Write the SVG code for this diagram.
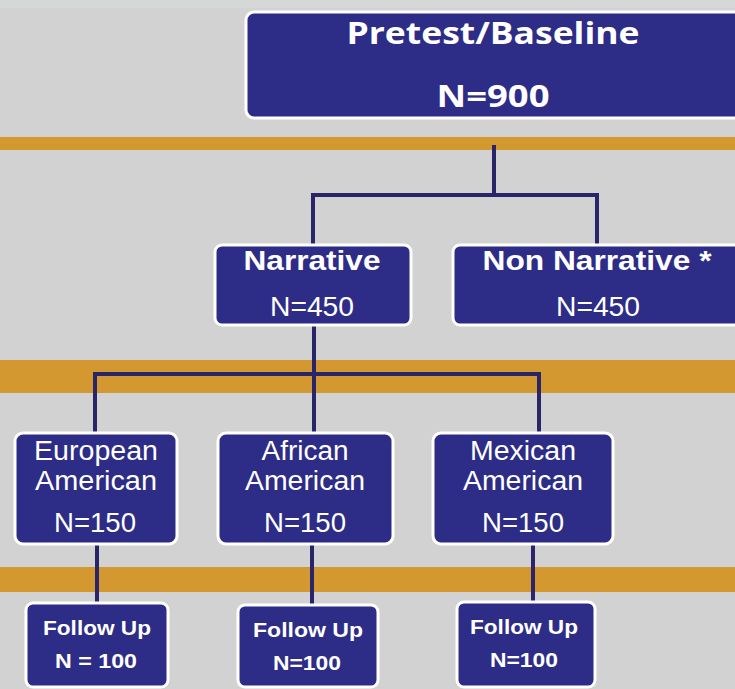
<svg xmlns="http://www.w3.org/2000/svg" width="735" height="689" viewBox="0 0 735 689">
<style>
.box{fill:#2d2c86;stroke:#ffffff;stroke-width:3}
.band{fill:#d3982f}
.t{fill:#ffffff;font-family:"Liberation Sans",Arial,sans-serif;text-anchor:middle}
.b{font-weight:bold}
.title{fill:#ffffff;font-family:"Open Sans","Liberation Sans",sans-serif;font-weight:bold;text-anchor:middle}
.c{fill:none;stroke:#2a2468;stroke-width:4;stroke-linecap:butt;stroke-linejoin:miter}
</style>
<rect width="735" height="689" fill="#d2d2d2"/>
<rect width="735" height="8" fill="#d6d8d8"/>
<rect class="band" x="0" y="137" width="735" height="13"/>
<rect class="band" x="0" y="360" width="735" height="33"/>
<rect class="band" x="0" y="567" width="735" height="25"/>
<g id="connectors">
<path class="c" d="M494 145 V195 M313 195 H597 M313 193 V245 M597 193 V245"/>
<path class="c" d="M314 325 V433 M95 374 H539 M95 372 V433 M539 372 V433"/>
<path class="c" d="M97 544 V603 M312 544 V605 M533 544 V602"/>
</g>
<g id="pretest">
<rect class="box" x="246" y="12" width="520" height="106" rx="8"/>
<text class="title" x="493" y="44" font-size="30" textLength="293" lengthAdjust="spacingAndGlyphs">Pretest/Baseline</text>
<text class="title" x="493" y="107" font-size="30" textLength="113" lengthAdjust="spacingAndGlyphs">N=900</text>
</g>
<g id="narrative">
<rect class="box" x="215" y="245" width="196" height="80" rx="7"/>
<text class="t b" x="312" y="270" font-size="28" textLength="137" lengthAdjust="spacingAndGlyphs">Narrative</text>
<text class="t" x="312" y="316" font-size="28" textLength="84" lengthAdjust="spacingAndGlyphs">N=450</text>
</g>
<g id="non-narrative">
<rect class="box" x="453" y="245" width="310" height="80" rx="7"/>
<text class="t b" x="597" y="270" font-size="28" textLength="229" lengthAdjust="spacingAndGlyphs">Non Narrative *</text>
<text class="t" x="598" y="316" font-size="28" textLength="84" lengthAdjust="spacingAndGlyphs">N=450</text>
</g>
<g id="european">
<rect class="box" x="15" y="433" width="162" height="111" rx="8"/>
<text class="t" x="96" y="460" font-size="27" textLength="124" lengthAdjust="spacingAndGlyphs">European</text>
<text class="t" x="96" y="490" font-size="27" textLength="122" lengthAdjust="spacingAndGlyphs">American</text>
<text class="t" x="95" y="532" font-size="28" textLength="82" lengthAdjust="spacingAndGlyphs">N=150</text>
</g>
<g id="african">
<rect class="box" x="218" y="433" width="175" height="111" rx="8"/>
<text class="t" x="305" y="460" font-size="27" textLength="87" lengthAdjust="spacingAndGlyphs">African</text>
<text class="t" x="305" y="490" font-size="27" textLength="120" lengthAdjust="spacingAndGlyphs">American</text>
<text class="t" x="305" y="532" font-size="28" textLength="82" lengthAdjust="spacingAndGlyphs">N=150</text>
</g>
<g id="mexican">
<rect class="box" x="433" y="433" width="180" height="111" rx="8"/>
<text class="t" x="523" y="460" font-size="27" textLength="106" lengthAdjust="spacingAndGlyphs">Mexican</text>
<text class="t" x="523" y="490" font-size="27" textLength="120" lengthAdjust="spacingAndGlyphs">American</text>
<text class="t" x="523" y="532" font-size="28" textLength="82" lengthAdjust="spacingAndGlyphs">N=150</text>
</g>
<g id="followup-european">
<rect class="box" x="26" y="603" width="142" height="84" rx="7"/>
<text class="t b" x="97" y="635" font-size="21" textLength="108" lengthAdjust="spacingAndGlyphs">Follow Up</text>
<text class="t b" x="96" y="668" font-size="21" textLength="82" lengthAdjust="spacingAndGlyphs">N = 100</text>
</g>
<g id="followup-african">
<rect class="box" x="238" y="605" width="140" height="82" rx="7"/>
<text class="t b" x="308" y="637" font-size="21" textLength="110" lengthAdjust="spacingAndGlyphs">Follow Up</text>
<text class="t b" x="307" y="670" font-size="21" textLength="68" lengthAdjust="spacingAndGlyphs">N=100</text>
</g>
<g id="followup-mexican">
<rect class="box" x="457" y="602" width="138" height="85" rx="7"/>
<text class="t b" x="524" y="634" font-size="21" textLength="108" lengthAdjust="spacingAndGlyphs">Follow Up</text>
<text class="t b" x="524" y="667" font-size="21" textLength="68" lengthAdjust="spacingAndGlyphs">N=100</text>
</g>
</svg>
